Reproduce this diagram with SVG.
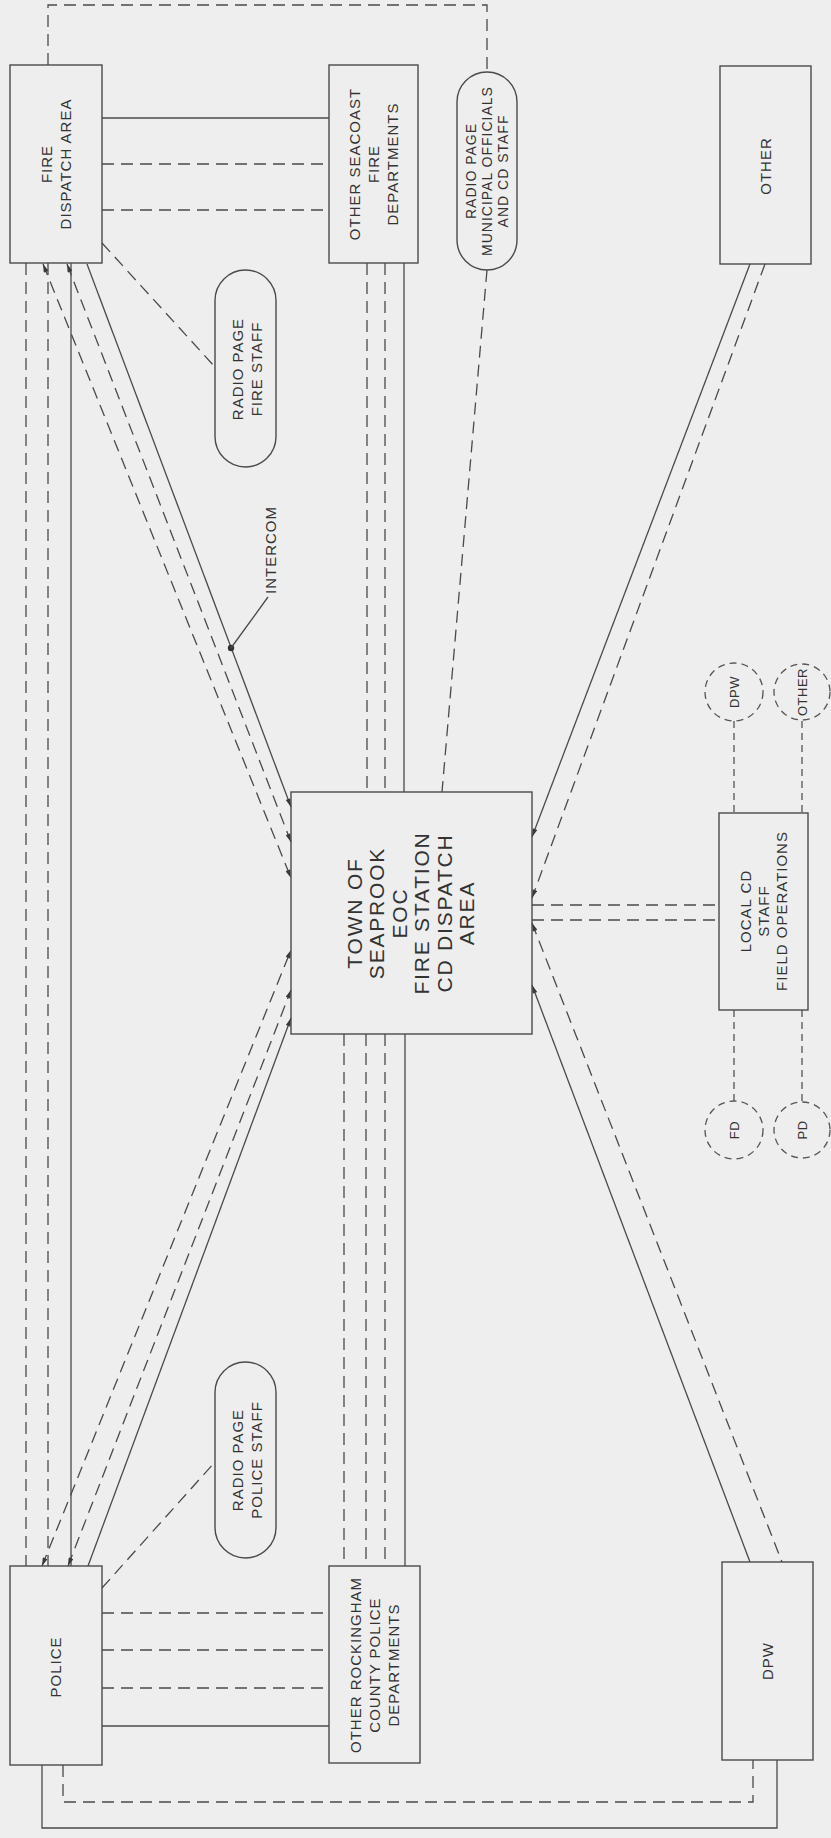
<svg xmlns="http://www.w3.org/2000/svg" width="831" height="1838" viewBox="0 0 831 1838">
<style>
.bg{fill:#eeeeee}
.box{fill:none;stroke:#4a4a4a;stroke-width:1.4}
.s{fill:none;stroke:#4a4a4a;stroke-width:1.3}
.d{fill:none;stroke:#4a4a4a;stroke-width:1.3;stroke-dasharray:12 7}
.dc{fill:none;stroke:#555;stroke-width:1.3;stroke-dasharray:7 5}
.t{font-family:"Liberation Sans",Arial,sans-serif;font-size:15px;letter-spacing:1px;fill:#333;text-anchor:middle}
.tm{font-size:14px}
.tb{font-size:21px;letter-spacing:1.8px}
.tc{font-size:13px;letter-spacing:0.5px}
</style>
<defs>
<marker id="ah" viewBox="0 0 10 6" refX="10" refY="3" markerWidth="10" markerHeight="5" orient="auto-start-reverse" markerUnits="userSpaceOnUse"><path d="M0,0 L10,3 L0,6 z" fill="#3a3a3a"/></marker>
</defs>
<rect class="bg" x="0" y="0" width="831" height="1838"/>
<g id="connectors">
<polyline class="d" points="48,65 48,5 487,5 487,72"/>
<line class="s" x1="102" y1="118" x2="329" y2="118"/>
<line class="d" x1="102" y1="164" x2="329" y2="164"/>
<line class="d" x1="102" y1="210" x2="329" y2="210"/>
<line class="d" x1="26" y1="263" x2="26" y2="1566"/>
<line class="d" x1="48" y1="263" x2="48" y2="1566"/>
<line class="s" x1="71" y1="263" x2="71" y2="1566"/>
<line class="d" x1="43" y1="264" x2="291" y2="878" marker-start="url(#ah)" marker-end="url(#ah)"/>
<line class="d" x1="67" y1="264" x2="291" y2="842" marker-start="url(#ah)" marker-end="url(#ah)"/>
<line class="s" x1="87" y1="264" x2="291" y2="807" marker-end="url(#ah)"/>
<line class="d" x1="102" y1="243" x2="215" y2="367"/>
<circle cx="231" cy="648" r="3.2" fill="#333"/>
<line class="s" x1="231" y1="648" x2="268" y2="597"/>
<line class="d" x1="367" y1="263" x2="367" y2="792"/>
<line class="d" x1="385" y1="263" x2="385" y2="792"/>
<line class="s" x1="404" y1="263" x2="404" y2="792"/>
<line class="d" x1="487" y1="270" x2="442" y2="792"/>
<line class="s" x1="750" y1="264" x2="532" y2="837" marker-end="url(#ah)"/>
<line class="d" x1="765" y1="264" x2="532" y2="898" marker-end="url(#ah)"/>
<line class="d" x1="532" y1="905" x2="719" y2="905"/>
<line class="d" x1="532" y1="920" x2="719" y2="920"/>
<line class="d" x1="532" y1="923" x2="782" y2="1562" marker-start="url(#ah)"/>
<line class="s" x1="532" y1="985" x2="750" y2="1562" marker-start="url(#ah)"/>
<line class="dc" x1="734" y1="721" x2="734" y2="813"/>
<line class="dc" x1="802" y1="721" x2="802" y2="813"/>
<line class="dc" x1="734" y1="1010" x2="734" y2="1101"/>
<line class="dc" x1="802" y1="1010" x2="802" y2="1101"/>
<line class="d" x1="344" y1="1034" x2="344" y2="1566"/>
<line class="d" x1="366" y1="1034" x2="366" y2="1566"/>
<line class="d" x1="385" y1="1034" x2="385" y2="1566"/>
<line class="s" x1="405" y1="1034" x2="405" y2="1566"/>
<line class="d" x1="42" y1="1566" x2="291" y2="950" marker-start="url(#ah)" marker-end="url(#ah)"/>
<line class="d" x1="68" y1="1566" x2="291" y2="990" marker-start="url(#ah)" marker-end="url(#ah)"/>
<line class="s" x1="88" y1="1566" x2="291" y2="1018" marker-end="url(#ah)"/>
<line class="d" x1="102" y1="1588" x2="215" y2="1462"/>
<line class="d" x1="102" y1="1613" x2="329" y2="1613"/>
<line class="d" x1="102" y1="1650" x2="329" y2="1650"/>
<line class="d" x1="102" y1="1688" x2="329" y2="1688"/>
<line class="s" x1="102" y1="1726" x2="329" y2="1726"/>
<polyline class="s" points="42,1765 42,1828 777,1828 777,1760"/>
<polyline class="d" points="63,1765 63,1802 753,1802 753,1760"/>
</g>
<g id="fire-dispatch">
<rect class="box" x="10" y="65" width="92" height="198"/>
<text class="t" transform="translate(56,164) rotate(-90)"><tspan x="0" dy="-4">FIRE</tspan><tspan x="0" dy="19">DISPATCH AREA</tspan></text>
</g>
<g id="other-seacoast">
<rect class="box" x="329" y="65" width="89" height="198"/>
<text class="t" transform="translate(374,164) rotate(-90)"><tspan x="0" dy="-14">OTHER SEACOAST</tspan><tspan x="0" dy="19">FIRE</tspan><tspan x="0" dy="19">DEPARTMENTS</tspan></text>
</g>
<g id="radio-municipal">
<rect class="box" x="457" y="72" width="60" height="198" rx="30" ry="30"/>
<text class="t tm" transform="translate(487,171) rotate(-90)"><tspan x="0" dy="-11">RADIO PAGE</tspan><tspan x="0" dy="16">MUNICIPAL OFFICIALS</tspan><tspan x="0" dy="16">AND CD STAFF</tspan></text>
</g>
<g id="other-top">
<rect class="box" x="720" y="66" width="91" height="198"/>
<text class="t" transform="translate(766,166) rotate(-90)"><tspan x="0" dy="5">OTHER</tspan></text>
</g>
<g id="radio-fire">
<rect class="box" x="215" y="270" width="61" height="197" rx="30.5" ry="30.5"/>
<text class="t" transform="translate(246,369) rotate(-90)"><tspan x="0" dy="-3">RADIO PAGE</tspan><tspan x="0" dy="19">FIRE STAFF</tspan></text>
</g>
<g id="intercom-label">
<text class="t" transform="translate(270,550) rotate(-90)"><tspan x="0" dy="6">INTERCOM</tspan></text>
</g>
<g id="eoc">
<rect class="box" x="291" y="792" width="241" height="242"/>
<text class="t tb" transform="translate(411,913) rotate(-90)"><tspan x="0" dy="-49">TOWN OF</tspan><tspan x="0" dy="22.4">SEAPROOK</tspan><tspan x="0" dy="22.4">EOC</tspan><tspan x="0" dy="22.4">FIRE STATION</tspan><tspan x="0" dy="22.4">CD DISPATCH</tspan><tspan x="0" dy="22.4">AREA</tspan></text>
</g>
<g id="circle-dpw">
<circle class="dc" cx="734" cy="692" r="29"/>
<text class="t tc" transform="translate(734,692) rotate(-90)"><tspan x="0" dy="5">DPW</tspan></text>
</g>
<g id="circle-other">
<circle class="dc" cx="802" cy="692" r="28"/>
<text class="t tc" transform="translate(802,692) rotate(-90)"><tspan x="0" dy="5">OTHER</tspan></text>
</g>
<g id="local-cd">
<rect class="box" x="719" y="813" width="89" height="197"/>
<text class="t" transform="translate(764,911) rotate(-90)"><tspan x="0" dy="-13">LOCAL CD</tspan><tspan x="0" dy="18">STAFF</tspan><tspan x="0" dy="18">FIELD OPERATIONS</tspan></text>
</g>
<g id="circle-fd">
<circle class="dc" cx="734" cy="1130" r="29"/>
<text class="t tc" transform="translate(734,1130) rotate(-90)"><tspan x="0" dy="5">FD</tspan></text>
</g>
<g id="circle-pd">
<circle class="dc" cx="802" cy="1130" r="28"/>
<text class="t tc" transform="translate(802,1130) rotate(-90)"><tspan x="0" dy="5">PD</tspan></text>
</g>
<g id="radio-police">
<rect class="box" x="215" y="1362" width="61" height="196" rx="30.5" ry="30.5"/>
<text class="t" transform="translate(246,1460) rotate(-90)"><tspan x="0" dy="-3">RADIO PAGE</tspan><tspan x="0" dy="19">POLICE STAFF</tspan></text>
</g>
<g id="police">
<rect class="box" x="10" y="1566" width="92" height="199"/>
<text class="t" transform="translate(56,1667) rotate(-90)"><tspan x="0" dy="5">POLICE</tspan></text>
</g>
<g id="other-rockingham">
<rect class="box" x="329" y="1566" width="91" height="197"/>
<text class="t" transform="translate(375,1665) rotate(-90)"><tspan x="0" dy="-14">OTHER ROCKINGHAM</tspan><tspan x="0" dy="19">COUNTY POLICE</tspan><tspan x="0" dy="19">DEPARTMENTS</tspan></text>
</g>
<g id="dpw">
<rect class="box" x="722" y="1562" width="91" height="198"/>
<text class="t" transform="translate(768,1661) rotate(-90)"><tspan x="0" dy="5">DPW</tspan></text>
</g>
</svg>
